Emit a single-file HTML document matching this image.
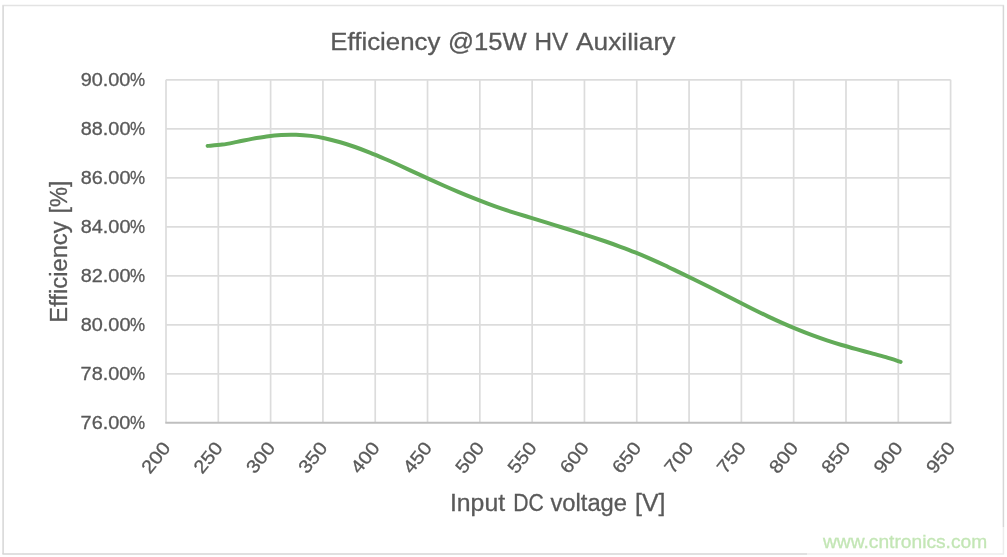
<!DOCTYPE html>
<html><head><meta charset="utf-8"><title>Efficiency @15W HV Auxiliary</title>
<style>html,body{margin:0;padding:0;background:#fff;overflow:hidden}svg{display:block;filter:blur(0.45px)}text{font-family:"Liberation Sans",sans-serif}.d{stroke:#595959;stroke-width:0.3px}</style>
</head><body>
<svg width="1007" height="557" viewBox="0 0 1007 557">
<rect x="0" y="0" width="1007" height="557" fill="#ffffff"/>
<g fill="none" stroke-width="1.5">
<line x1="2.4" y1="5.4" x2="1004.1" y2="5.4" stroke="#e3e3e3"/>
<line x1="2.4" y1="554.1" x2="1004.1" y2="554.1" stroke="#d6d6d6"/>
<line x1="3.1" y1="5.4" x2="3.1" y2="554.1" stroke="#d6d6d6"/>
<line x1="1003.4" y1="5.4" x2="1003.4" y2="554.1" stroke="#d6d6d6"/>
</g>
<defs><filter id="gb" x="-2%" y="-2%" width="104%" height="104%"><feGaussianBlur stdDeviation="0.5"/></filter></defs>
<g stroke="#dcdcdc" stroke-width="1.7" fill="none" filter="url(#gb)">
<line x1="166.00" y1="79.80" x2="166.00" y2="422.80"/>
<line x1="218.31" y1="79.80" x2="218.31" y2="422.80"/>
<line x1="270.61" y1="79.80" x2="270.61" y2="422.80"/>
<line x1="322.92" y1="79.80" x2="322.92" y2="422.80"/>
<line x1="375.23" y1="79.80" x2="375.23" y2="422.80"/>
<line x1="427.53" y1="79.80" x2="427.53" y2="422.80"/>
<line x1="479.84" y1="79.80" x2="479.84" y2="422.80"/>
<line x1="532.15" y1="79.80" x2="532.15" y2="422.80"/>
<line x1="584.45" y1="79.80" x2="584.45" y2="422.80"/>
<line x1="636.76" y1="79.80" x2="636.76" y2="422.80"/>
<line x1="689.07" y1="79.80" x2="689.07" y2="422.80"/>
<line x1="741.37" y1="79.80" x2="741.37" y2="422.80"/>
<line x1="793.68" y1="79.80" x2="793.68" y2="422.80"/>
<line x1="845.99" y1="79.80" x2="845.99" y2="422.80"/>
<line x1="898.29" y1="79.80" x2="898.29" y2="422.80"/>
<line x1="950.60" y1="79.80" x2="950.60" y2="422.80"/>
<line x1="166.00" y1="79.80" x2="950.60" y2="79.80"/>
<line x1="166.00" y1="128.80" x2="950.60" y2="128.80"/>
<line x1="166.00" y1="177.80" x2="950.60" y2="177.80"/>
<line x1="166.00" y1="226.80" x2="950.60" y2="226.80"/>
<line x1="166.00" y1="275.80" x2="950.60" y2="275.80"/>
<line x1="166.00" y1="324.80" x2="950.60" y2="324.80"/>
<line x1="166.00" y1="373.80" x2="950.60" y2="373.80"/>
</g>
<line x1="165.30" y1="422.80" x2="951.30" y2="422.80" stroke="#bfbfbf" stroke-width="2"/>
<path d="M207.60,145.87 C210.06,145.65 217.43,145.24 222.34,144.58 C227.26,143.91 232.17,142.83 237.09,141.88 C242.00,140.93 246.92,139.80 251.83,138.89 C256.75,137.98 261.66,137.07 266.58,136.41 C271.49,135.75 276.41,135.20 281.32,134.92 C286.24,134.63 291.15,134.55 296.07,134.71 C300.98,134.87 305.90,135.27 310.81,135.89 C315.73,136.51 320.64,137.38 325.56,138.44 C330.47,139.49 335.39,140.79 340.30,142.22 C345.22,143.64 350.13,145.26 355.05,146.99 C359.96,148.71 364.88,150.61 369.79,152.57 C374.71,154.52 379.62,156.62 384.54,158.74 C389.45,160.86 394.37,163.07 399.28,165.29 C404.20,167.51 409.11,169.82 414.03,172.08 C418.94,174.35 423.86,176.63 428.77,178.87 C433.69,181.11 438.60,183.33 443.51,185.50 C448.43,187.67 453.34,189.81 458.26,191.88 C463.17,193.95 468.09,195.97 473.00,197.93 C477.92,199.89 482.83,201.80 487.75,203.63 C492.66,205.46 497.58,207.26 502.49,208.93 C507.41,210.59 512.32,212.11 517.24,213.63 C522.15,215.16 527.07,216.59 531.98,218.10 C536.90,219.60 541.81,221.14 546.73,222.67 C551.64,224.19 556.56,225.71 561.47,227.24 C566.39,228.77 571.30,230.28 576.22,231.84 C581.13,233.39 586.05,234.95 590.96,236.57 C595.88,238.18 600.79,239.82 605.71,241.52 C610.62,243.22 615.54,244.96 620.45,246.77 C625.37,248.58 630.28,250.41 635.20,252.37 C640.11,254.34 645.03,256.42 649.94,258.57 C654.86,260.72 659.77,262.97 664.69,265.27 C669.60,267.56 674.51,269.99 679.43,272.35 C684.34,274.71 689.26,277.03 694.17,279.43 C699.09,281.83 704.00,284.29 708.92,286.75 C713.83,289.22 718.75,291.74 723.66,294.24 C728.58,296.74 733.49,299.28 738.41,301.76 C743.32,304.25 748.24,306.74 753.15,309.17 C758.07,311.60 762.98,314.01 767.90,316.34 C772.81,318.66 777.73,320.95 782.64,323.13 C787.56,325.31 792.47,327.42 797.39,329.44 C802.30,331.45 807.22,333.40 812.13,335.23 C817.05,337.06 821.96,338.79 826.88,340.43 C831.79,342.06 836.71,343.58 841.62,345.04 C846.54,346.50 851.45,347.85 856.37,349.19 C861.28,350.54 866.20,351.78 871.11,353.11 C876.03,354.44 880.94,355.70 885.86,357.16 C890.77,358.62 898.14,361.08 900.60,361.87" fill="none" stroke="#62ab58" stroke-width="4.0" stroke-linecap="round" stroke-linejoin="round"/>
<text class="d" transform="translate(330.27,50.00) scale(1.0467,1.0000)" font-size="24.70" fill="#595959">Efficiency</text>
<text class="d" transform="translate(447.91,50.00) scale(1.0372,1.0000)" font-size="24.70" fill="#595959">@15W</text>
<text class="d" transform="translate(534.49,50.00) scale(0.9853,1.0000)" font-size="24.70" fill="#595959">HV</text>
<text class="d" transform="translate(576.03,50.00) scale(1.0639,1.0000)" font-size="24.70" fill="#595959">Auxiliary</text>
<text class="d" transform="translate(80.65,85.90) scale(1.1178,1.0000)" font-size="17.80" fill="#595959">90.00</text>
<text class="d" transform="translate(130.11,85.90) scale(0.9523,1.0000)" font-size="17.80" fill="#595959">%</text>
<text class="d" transform="translate(80.76,134.90) scale(1.1155,1.0000)" font-size="17.80" fill="#595959">88.00</text>
<text class="d" transform="translate(130.11,134.90) scale(0.9523,1.0000)" font-size="17.80" fill="#595959">%</text>
<text class="d" transform="translate(80.76,183.90) scale(1.1155,1.0000)" font-size="17.80" fill="#595959">86.00</text>
<text class="d" transform="translate(130.11,183.90) scale(0.9523,1.0000)" font-size="17.80" fill="#595959">%</text>
<text class="d" transform="translate(80.76,232.90) scale(1.1155,1.0000)" font-size="17.80" fill="#595959">84.00</text>
<text class="d" transform="translate(130.11,232.90) scale(0.9523,1.0000)" font-size="17.80" fill="#595959">%</text>
<text class="d" transform="translate(80.76,281.90) scale(1.1155,1.0000)" font-size="17.80" fill="#595959">82.00</text>
<text class="d" transform="translate(130.11,281.90) scale(0.9523,1.0000)" font-size="17.80" fill="#595959">%</text>
<text class="d" transform="translate(80.76,330.90) scale(1.1155,1.0000)" font-size="17.80" fill="#595959">80.00</text>
<text class="d" transform="translate(130.11,330.90) scale(0.9523,1.0000)" font-size="17.80" fill="#595959">%</text>
<text class="d" transform="translate(80.60,379.90) scale(1.1189,1.0000)" font-size="17.80" fill="#595959">78.00</text>
<text class="d" transform="translate(130.11,379.90) scale(0.9523,1.0000)" font-size="17.80" fill="#595959">%</text>
<text class="d" transform="translate(80.60,428.90) scale(1.1189,1.0000)" font-size="17.80" fill="#595959">76.00</text>
<text class="d" transform="translate(130.11,428.90) scale(0.9523,1.0000)" font-size="17.80" fill="#595959">%</text>
<text class="d" transform="translate(171.40,448.30) rotate(-51) scale(1.1,1)" font-size="18.5" text-anchor="end" fill="#595959">200</text>
<text class="d" transform="translate(223.71,448.30) rotate(-51) scale(1.1,1)" font-size="18.5" text-anchor="end" fill="#595959">250</text>
<text class="d" transform="translate(276.01,448.30) rotate(-51) scale(1.1,1)" font-size="18.5" text-anchor="end" fill="#595959">300</text>
<text class="d" transform="translate(328.32,448.30) rotate(-51) scale(1.1,1)" font-size="18.5" text-anchor="end" fill="#595959">350</text>
<text class="d" transform="translate(380.63,448.30) rotate(-51) scale(1.1,1)" font-size="18.5" text-anchor="end" fill="#595959">400</text>
<text class="d" transform="translate(432.93,448.30) rotate(-51) scale(1.1,1)" font-size="18.5" text-anchor="end" fill="#595959">450</text>
<text class="d" transform="translate(485.24,448.30) rotate(-51) scale(1.1,1)" font-size="18.5" text-anchor="end" fill="#595959">500</text>
<text class="d" transform="translate(537.55,448.30) rotate(-51) scale(1.1,1)" font-size="18.5" text-anchor="end" fill="#595959">550</text>
<text class="d" transform="translate(589.85,448.30) rotate(-51) scale(1.1,1)" font-size="18.5" text-anchor="end" fill="#595959">600</text>
<text class="d" transform="translate(642.16,448.30) rotate(-51) scale(1.1,1)" font-size="18.5" text-anchor="end" fill="#595959">650</text>
<text class="d" transform="translate(694.47,448.30) rotate(-51) scale(1.1,1)" font-size="18.5" text-anchor="end" fill="#595959">700</text>
<text class="d" transform="translate(746.77,448.30) rotate(-51) scale(1.1,1)" font-size="18.5" text-anchor="end" fill="#595959">750</text>
<text class="d" transform="translate(799.08,448.30) rotate(-51) scale(1.1,1)" font-size="18.5" text-anchor="end" fill="#595959">800</text>
<text class="d" transform="translate(851.39,448.30) rotate(-51) scale(1.1,1)" font-size="18.5" text-anchor="end" fill="#595959">850</text>
<text class="d" transform="translate(903.69,448.30) rotate(-51) scale(1.1,1)" font-size="18.5" text-anchor="end" fill="#595959">900</text>
<text class="d" transform="translate(956.00,448.30) rotate(-51) scale(1.1,1)" font-size="18.5" text-anchor="end" fill="#595959">950</text>
<text class="d" transform="translate(449.90,510.80) scale(1.0710,1.0000)" font-size="23.20" fill="#595959">Input</text>
<text class="d" transform="translate(513.26,510.80) scale(0.9109,1.0000)" font-size="23.20" fill="#595959">DC</text>
<text class="d" transform="translate(550.44,510.80) scale(1.0242,1.0000)" font-size="23.20" fill="#595959">voltage</text>
<text class="d" transform="translate(635.06,510.80) scale(1.0711,1.0000)" font-size="23.20" fill="#595959">[V]</text>
<text class="d" transform="translate(67.20,322.66) rotate(-90) scale(0.9752,1)" font-size="24.40" fill="#595959">Efficiency</text>
<text class="d" transform="translate(67.20,213.18) rotate(-90) scale(0.9233,1)" font-size="24.40" fill="#595959">[%]</text>
<rect x="807" y="527" width="200" height="30" fill="#ffffff" fill-opacity="0.55"/>
<text transform="translate(823.0,547.9)" font-size="19.2" fill="#c3e6b5" stroke="#c3e6b5" stroke-width="0.3">www.cntronics.com</text>
</svg>
</body></html>
